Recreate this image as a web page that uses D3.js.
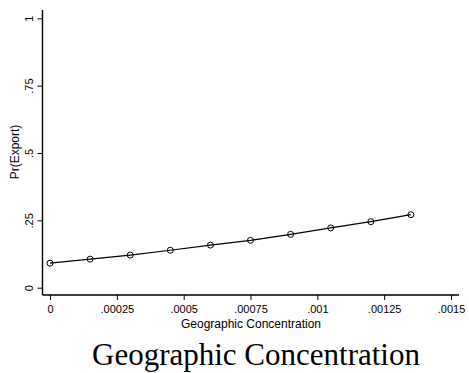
<!DOCTYPE html>
<html>
<head>
<meta charset="utf-8">
<script src="https://cdn.jsdelivr.net/npm/d3@7"></script>
<style>
  html, body { margin: 0; padding: 0; background: #fff; }
  svg { display: block; }
</style>
</head>
<body>
<svg id="chart" width="469" height="373"></svg>
<script>
// Predicted probability of exporting across geographic concentration
const concentration = [0, 0.00015, 0.0003, 0.00045, 0.0006, 0.00075, 0.0009, 0.00105, 0.0012, 0.00135];
const prExport = [0.091, 0.106, 0.121, 0.139, 0.158, 0.176, 0.198, 0.222, 0.245, 0.271];

const xTickValues = [0, 0.00025, 0.0005, 0.00075, 0.001, 0.00125, 0.0015];
const xTickLabels = ["0", ".00025", ".0005", ".00075", ".001", ".00125", ".0015"];
const yTickValues = [0, 0.25, 0.5, 0.75, 1];
const yTickLabels = ["0", ".25", ".5", ".75", "1"];

const svg = d3.select("#chart");
const sans = "'Liberation Sans', Arial, Helvetica, sans-serif";

const x = d3.scaleLinear().domain([0, 0.0015]).range([50, 451]);
const y = d3.scaleLinear().domain([0, 1]).range([287.7, 18.3]);

// plot region edges (axis lines extend slightly past the outer ticks)
const axisLeftX = 42.5, axisBottomY = 295;
const axisRightX = 459, axisTopY = 10;

// x axis
const xAxis = d3.axisBottom(x)
  .tickValues(xTickValues)
  .tickFormat((d, i) => xTickLabels[i])
  .tickSize(5)
  .tickPadding(5)
  .tickSizeOuter(0);
const gx = svg.append("g")
  .attr("transform", `translate(0,${axisBottomY})`)
  .call(xAxis);
gx.select(".domain").remove();
gx.selectAll(".tick line").attr("stroke", "#000").attr("stroke-width", 1);
gx.selectAll(".tick text")
  .attr("fill", "#000")
  .style("font-family", sans)
  .style("font-size", "11px");
svg.append("line")
  .attr("x1", axisLeftX).attr("x2", axisRightX)
  .attr("y1", axisBottomY).attr("y2", axisBottomY)
  .attr("stroke", "#000").attr("stroke-width", 1.4);

// y axis with rotated labels
const yAxis = d3.axisLeft(y)
  .tickValues(yTickValues)
  .tickFormat((d, i) => yTickLabels[i])
  .tickSize(5)
  .tickSizeOuter(0);
const gy = svg.append("g")
  .attr("transform", `translate(${axisLeftX},0)`)
  .call(yAxis);
gy.select(".domain").remove();
gy.selectAll(".tick line").attr("stroke", "#000").attr("stroke-width", 1);
gy.selectAll(".tick text")
  .attr("x", null)
  .attr("dy", null)
  .attr("text-anchor", "middle")
  .attr("transform", "translate(-9.5,0) rotate(-90)")
  .attr("fill", "#000")
  .style("font-family", sans)
  .style("font-size", "11px");
svg.append("line")
  .attr("x1", axisLeftX).attr("x2", axisLeftX)
  .attr("y1", axisTopY).attr("y2", axisBottomY)
  .attr("stroke", "#000").attr("stroke-width", 1.4);

// axis titles
svg.append("text")
  .attr("x", 251).attr("y", 327.5)
  .attr("text-anchor", "middle")
  .style("font-family", sans)
  .style("font-size", "12px")
  .text("Geographic Concentration");

svg.append("text")
  .attr("transform", "translate(19,152) rotate(-90)")
  .attr("text-anchor", "middle")
  .style("font-family", sans)
  .style("font-size", "12px")
  .text("Pr(Export)");

// connected line with hollow circle markers
const pts = concentration.map((c, i) => [c, prExport[i]]);
svg.append("path")
  .datum(pts)
  .attr("fill", "none")
  .attr("stroke", "#000")
  .attr("stroke-width", 1.2)
  .attr("d", d3.line().x(d => x(d[0])).y(d => y(d[1])));

svg.selectAll("circle.pt")
  .data(pts)
  .join("circle")
  .attr("class", "pt")
  .attr("cx", d => x(d[0]))
  .attr("cy", d => y(d[1]))
  .attr("r", 3)
  .attr("fill", "none")
  .attr("stroke", "#000")
  .attr("stroke-width", 1);

// caption title below the graph
svg.append("text")
  .attr("x", 92).attr("y", 365)
  .attr("text-anchor", "start")
  .style("font-family", "'Liberation Serif', 'Times New Roman', serif")
  .style("font-size", "31px")
  .text("Geographic Concentration");
</script>
</body>
</html>
